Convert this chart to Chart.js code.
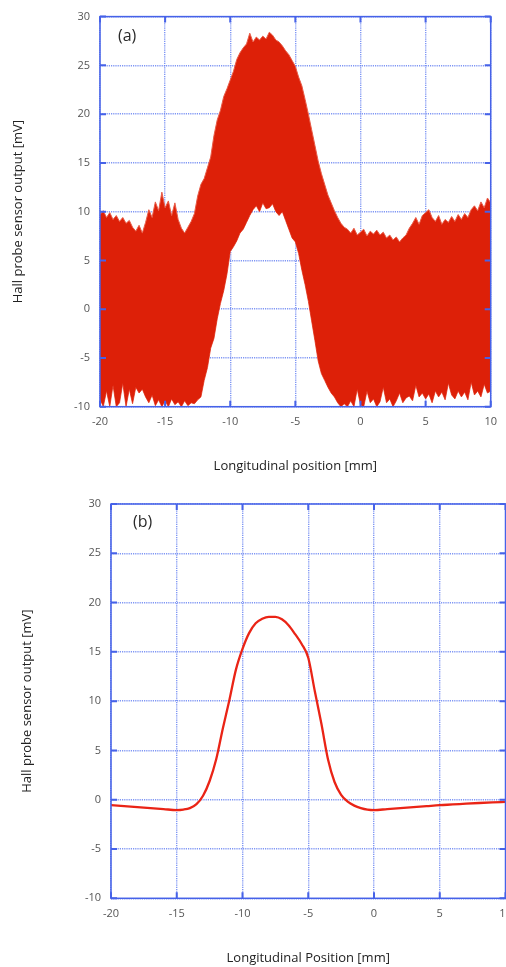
<!DOCTYPE html>
<html>
<head>
<meta charset="utf-8">
<script src="https://cdn.jsdelivr.net/npm/chart.js@4.4.1/dist/chart.umd.min.js"></script>
<style>
  html, body { margin: 0; padding: 0; background: #fff; width: 506px; height: 967px; overflow: hidden; }
  #chartA { position: absolute; left: 0; top: 0; }
  #chartB { position: absolute; left: 0; top: 480px; }
</style>
</head>
<body>
<canvas id="chartA" width="506" height="480"></canvas>
<canvas id="chartB" width="540" height="487"></canvas>
<script>
// ---- data ----
// (a) raw signal, sampled every 0.25 mm from -20 mm: upper / lower envelope of the noise band [mV]
const xStartA = -20;
const xStepA = 0.25;
const upperA = [
  9.7, 10.1, 9.4, 9.9,     // -20
  9.2, 9.6, 9.0, 9.4,      // -19
  8.8, 9.1, 8.4, 8.0,      // -18
  8.6, 7.8, 8.9, 10.2,     // -17
  9.4, 11.0, 10.1, 12.0,   // -16
  10.4, 11.1, 9.6, 10.9,   // -15
  9.2, 8.3, 7.8, 8.4,      // -14
  9.0, 9.8, 11.6, 12.8,    // -13
  13.4, 14.5, 15.6, 17.8,  // -12
  19.4, 20.4, 21.8, 22.6,  // -11
  23.5, 24.4, 25.6, 26.3,  // -10
  26.8, 27.2, 28.3, 27.4,  // -9
  27.9, 27.6, 28.0, 27.7,  // -8
  28.4, 28.1, 27.6, 27.4,  // -7
  27.0, 26.5, 26.1, 25.5,  // -6
  24.9, 23.8, 22.9, 21.5,  // -5
  20.0, 18.4, 16.8, 15.2,  // -4
  13.9, 12.8, 11.7, 10.9,  // -3
  10.1, 9.4, 8.8, 8.4,     // -2
  8.2, 7.8, 8.3, 7.6,      // -1
  7.9, 8.2, 7.5, 8.0,      // 0
  7.7, 8.1, 7.6, 7.9,      // 1
  7.3, 7.6, 7.1, 7.4,      // 2
  6.9, 7.3, 7.6, 8.3,      // 3
  8.8, 9.4, 8.7, 9.6,      // 4
  9.9, 10.2, 9.4, 9.0,     // 5
  9.6, 8.7, 9.2, 8.9,      // 6
  9.5, 9.0, 9.7, 9.2,      // 7
  9.8, 9.4, 10.2, 10.6,    // 8
  10.1, 11.0, 10.4, 11.4,  // 9
  10.9                     // 10
];
const lowerA = [
  -9.2, -10, -8.4, -10,     // -20
  -7.8, -10, -9.6, -7.6,    // -19
  -10, -8.2, -9.7, -8.0,    // -18
  -8.6, -8.2, -9.0, -9.6,   // -17
  -8.8, -9.9, -9.3, -10,    // -16
  -9.4, -10, -9.2, -9.8,    // -15
  -9.5, -10, -9.4, -9.9,    // -14
  -9.6, -9.7, -9.3, -9.0,   // -13
  -7.3, -6.0, -4.0, -3.0,   // -12
  -1.0, 0.6, 1.9, 3.6,      // -11
  5.9, 6.4, 7.0, 7.8,       // -10
  8.2, 8.9, 9.6, 10.2,      // -9
  10.6, 10.0, 10.9, 10.3,   // -8
  10.4, 10.8, 10.0, 9.6,    // -7
  10.0, 9.1, 8.2, 7.3,      // -6
  6.9, 5.7, 4.0, 2.5,       // -5
  0.8, -1.2, -3.2, -5.3,    // -4
  -6.6, -7.3, -8.0, -8.6,   // -3
  -9.0, -9.6, -10, -9.7,    // -2
  -10, -9.4, -10, -8.2,     // -1
  -9.8, -10, -8.4, -9.6,    // 0
  -9.2, -10, -9.5, -8.0,    // 1
  -9.6, -9.2, -10, -9.4,    // 2
  -8.6, -9.6, -9.1, -8.9,   // 3
  -9.4, -7.8, -9.0, -8.6,   // 4
  -9.2, -8.7, -9.6, -8.4,   // 5
  -9.0, -8.5, -9.3, -7.6,   // 6
  -8.8, -9.2, -8.4, -9.0,   // 7
  -8.5, -9.3, -7.5, -8.8,   // 8
  -8.4, -9.0, -7.7, -8.6,   // 9
  -8.4                      // 10
];

// (b) filtered signal
const posB = [-20, -19, -18, -17, -16, -15, -14.5, -14, -13.5, -13, -12.5, -12, -11.5, -11, -10.5, -10,
  -9.5, -9, -8.5, -8, -7.5, -7, -6.5, -6, -5.5, -5, -4.5, -4, -3.5, -3, -2.5, -2, -1.5, -1, -0.5, 0,
  1, 2, 3, 4, 5, 6, 7, 8, 9, 10];
const valB = [-0.55, -0.65, -0.75, -0.85, -0.95, -1.05, -1.0, -0.85, -0.45, 0.4, 1.9, 4.1, 7.2, 10.1, 13.2, 15.3,
  16.9, 17.9, 18.35, 18.55, 18.55, 18.3, 17.7, 16.8, 15.8, 14.4, 11.0, 7.7, 4.1, 1.8, 0.5, -0.2, -0.6, -0.85, -1.0, -1.05,
  -0.95, -0.85, -0.75, -0.65, -0.55, -0.48, -0.4, -0.33, -0.27, -0.22];

const xTicks = [-20, -15, -10, -5, 0, 5, 10];
const yTicks = [-10, -5, 0, 5, 10, 15, 20, 25, 30];
const panelLabels = ['(a)', '(b)'];
const xTitles = ['Longitudinal position [mm]', 'Longitudinal Position [mm]'];
const yTitle = 'Hall probe sensor output [mV]';

// ---- style ----
const FRAME = 'rgb(70, 98, 232)';
const GRID = 'rgba(105, 132, 242, 0.85)';
const TICKCOL = '#555';
const FONT = '"Open Sans", "Noto Sans", sans-serif';

const framePlugin = {
  id: 'frame',
  afterDatasetsDraw(chart, args, opts) {
    const { ctx, chartArea: a, scales } = chart;
    ctx.save();
    ctx.strokeStyle = FRAME;
    ctx.lineWidth = 1.5;
    ctx.strokeRect(a.left, a.top, a.right - a.left, a.bottom - a.top);
    // short inward tick marks on all four sides
    ctx.lineWidth = 2;
    ctx.beginPath();
    xTicks.forEach(v => {
      const px = scales.x.getPixelForValue(v);
      ctx.moveTo(px, a.bottom); ctx.lineTo(px, a.bottom - 6);
      ctx.moveTo(px, a.top); ctx.lineTo(px, a.top + 6);
    });
    yTicks.forEach(v => {
      const py = scales.y.getPixelForValue(v);
      ctx.moveTo(a.left, py); ctx.lineTo(a.left + 6, py);
      ctx.moveTo(a.right, py); ctx.lineTo(a.right - 6, py);
    });
    ctx.stroke();
    ctx.fillStyle = '#2a2a2a';
    ctx.font = '16px ' + FONT;
    ctx.textBaseline = 'middle';
    ctx.fillText(opts.text, a.left + opts.dx, a.top + opts.dy);
    ctx.restore();
  }
};

function makeOptions(p) {
  return {
    responsive: false,
    animation: false,
    devicePixelRatio: 1,
    layout: { padding: { left: 0, top: p.padTop, right: p.padRight, bottom: 0 } },
    plugins: {
      legend: { display: false },
      tooltip: { enabled: false },
      frame: { text: p.label, dx: p.labelDx, dy: p.labelDy }
    },
    scales: {
      x: {
        type: 'linear', min: -20, max: 10,
        afterBuildTicks: s => { s.ticks = xTicks.map(v => ({ value: v })); },
        afterFit: s => { s.height = p.xAxisH; },
        ticks: { color: TICKCOL, font: { family: FONT, size: 11 }, padding: 9, maxRotation: 0 },
        grid: { color: GRID, lineWidth: 1.4, drawTicks: false },
        border: { display: false, dash: [1.2, 1] },
        title: { display: true, text: p.xTitle, color: '#222', font: { family: FONT, size: 13 },
                 padding: { top: 0, bottom: p.xTitlePad } }
      },
      y: {
        type: 'linear', min: -10, max: 30,
        afterBuildTicks: s => { s.ticks = yTicks.map(v => ({ value: v })); },
        afterFit: s => { s.width = p.yAxisW; },
        ticks: { color: TICKCOL, font: { family: FONT, size: 11 }, padding: 10 },
        grid: { color: GRID, lineWidth: 1.4, drawTicks: false },
        border: { display: false, dash: [1.2, 1] },
        title: { display: true, text: yTitle, color: '#222', font: { family: FONT, size: 13 },
                 padding: { top: p.yTitlePad, bottom: 0 } }
      }
    }
  };
}

// ---- chart (a) ----
const ptsUpper = upperA.map((v, i) => ({ x: xStartA + i * xStepA, y: v }));
const ptsLower = lowerA.map((v, i) => ({ x: xStartA + i * xStepA, y: v }));

new Chart(document.getElementById('chartA'), {
  type: 'line',
  data: {
    datasets: [
      {
        data: ptsUpper,
        fill: '+1',
        backgroundColor: 'rgb(221, 32, 8)',
        borderColor: 'rgb(232, 92, 72)',
        borderWidth: 1,
        pointRadius: 0,
        tension: 0
      },
      {
        data: ptsLower,
        fill: false,
        borderColor: 'rgb(232, 92, 72)',
        borderWidth: 1,
        pointRadius: 0,
        tension: 0
      }
    ]
  },
  options: makeOptions({
    padTop: 12.7, padRight: 11, xAxisH: 73.3, yAxisW: 100,
    xTitle: xTitles[0], xTitlePad: 5.7, yTitlePad: 10.2,
    label: panelLabels[0], labelDx: 18, labelDy: 19.5
  }),
  plugins: [framePlugin]
});

// ---- chart (b) ----
new Chart(document.getElementById('chartB'), {
  type: 'line',
  data: {
    datasets: [{
      data: posB.map((x, i) => ({ x: x, y: valB[i] })),
      fill: false,
      borderColor: 'rgb(234, 36, 22)',
      borderWidth: 2.3,
      pointRadius: 0,
      cubicInterpolationMode: 'monotone'
    }]
  },
  options: makeOptions({
    padTop: 24, padRight: 34.5, xAxisH: 68.7, yAxisW: 111,
    xTitle: xTitles[1], xTitlePad: 1.2, yTitlePad: 19.2,
    label: panelLabels[1], labelDx: 22, labelDy: 18.7
  }),
  plugins: [framePlugin]
});
</script>
</body>
</html>
